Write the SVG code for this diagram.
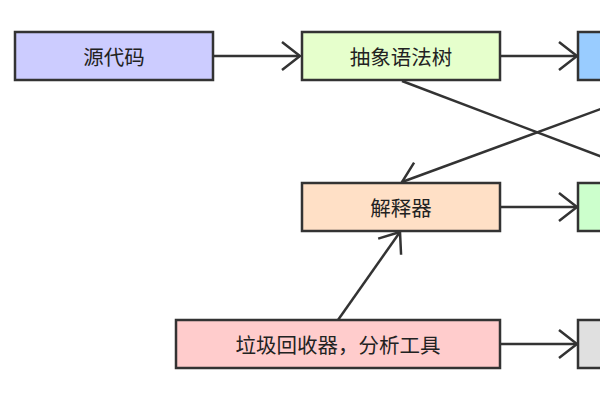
<svg xmlns="http://www.w3.org/2000/svg" width="600" height="400" viewBox="0 0 600 400">
<style>
.box{stroke:#333;stroke-width:2.5}
.lbl{font-family:"Noto Sans CJK SC","Liberation Sans",sans-serif;font-size:20.5px;fill:#222;text-anchor:middle;dominant-baseline:central}
.edge{stroke:#333;stroke-width:2.5;fill:none;marker-end:url(#arr)}
</style>
<defs>
<marker id="arr" markerUnits="userSpaceOnUse" viewBox="-22 -17 24 34" refX="0" refY="0" markerWidth="24" markerHeight="34" orient="auto">
<path d="M-18,-14 L0,0 L-18,14" fill="none" stroke="#333" stroke-width="2.5"/>
</marker>
</defs>
<rect width="600" height="400" fill="#fff"/>
<g id="connectors">
<line class="edge" x1="213" y1="56" x2="300" y2="56"/>
<line class="edge" x1="500" y1="56" x2="577" y2="56"/>
<line class="edge" x1="402" y1="81" x2="668" y2="182"/>
<line class="edge" x1="677" y1="81" x2="402" y2="182"/>
<line class="edge" x1="500" y1="207" x2="577" y2="207"/>
<line class="edge" x1="500" y1="344" x2="577" y2="344"/>
<line class="edge" x1="338" y1="320" x2="400" y2="232"/>
</g>
<g id="n1"><rect class="box" x="15" y="32" width="198" height="48" fill="#ccccff"/><text class="lbl" x="114" y="56">源代码</text></g>
<g id="n2"><rect class="box" x="302" y="32" width="198" height="48" fill="#e6ffcc"/><text class="lbl" x="401" y="56">抽象语法树</text></g>
<g id="n3"><rect class="box" x="578" y="32" width="198" height="48" fill="#99ccff"/></g>
<g id="n4"><rect class="box" x="302" y="183" width="198" height="48" fill="#ffe0c6"/><text class="lbl" x="401" y="207">解释器</text></g>
<g id="n5"><rect class="box" x="578" y="183" width="198" height="48" fill="#ccffcc"/></g>
<g id="n6"><rect class="box" x="176" y="320" width="324" height="48" fill="#ffcccc"/><text class="lbl" x="338" y="344">垃圾回收器，分析工具</text></g>
<g id="n7"><rect class="box" x="578" y="320" width="198" height="48" fill="#e0e0e0"/></g>
</svg>
